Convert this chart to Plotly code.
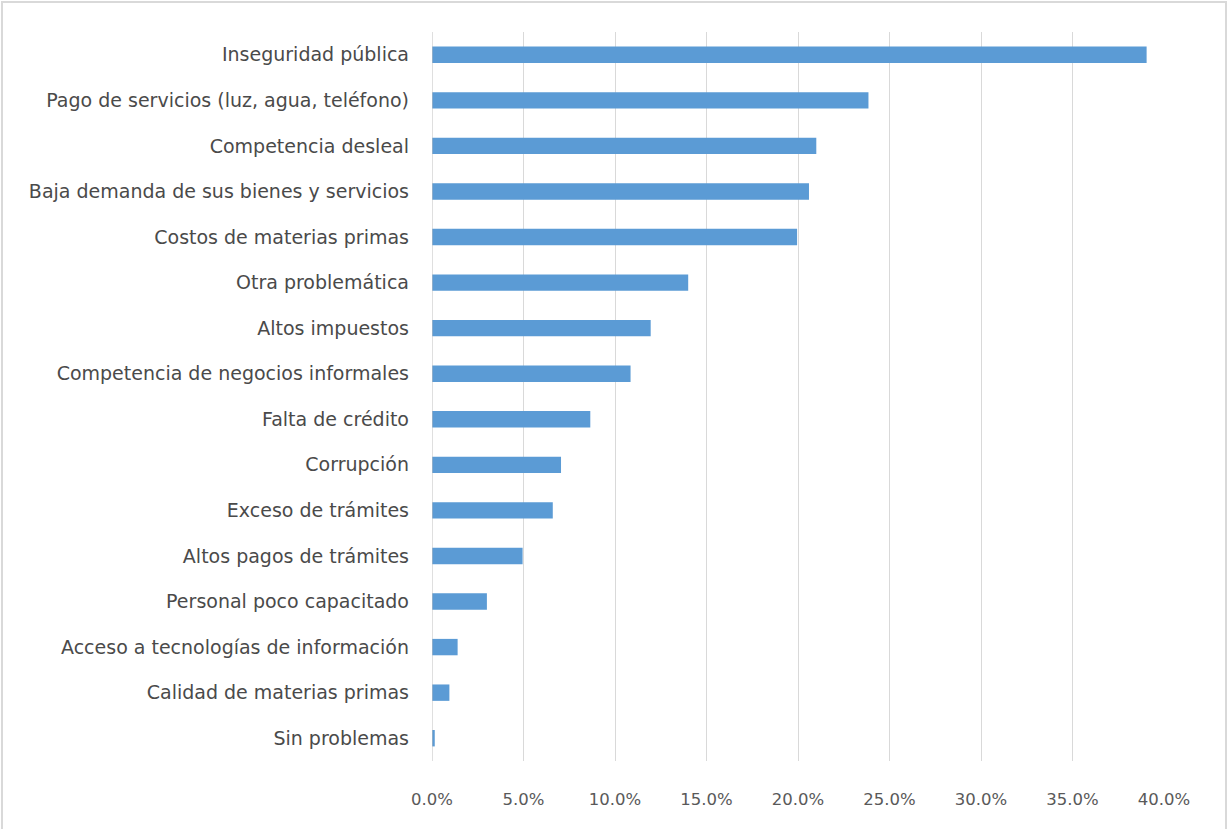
import plotly.graph_objects as go

categories = [
    "Inseguridad pública",
    "Pago de servicios (luz, agua, teléfono)",
    "Competencia desleal",
    "Baja demanda de sus bienes y servicios",
    "Costos de materias primas",
    "Otra problemática",
    "Altos impuestos",
    "Competencia de negocios informales",
    "Falta de crédito",
    "Corrupción",
    "Exceso de trámites",
    "Altos pagos de trámites",
    "Personal poco capacitado",
    "Acceso a tecnologías de información",
    "Calidad de materias primas",
    "Sin problemas",
]
values = [39.05, 23.85, 21.0, 20.6, 19.95, 14.0, 11.95, 10.85, 8.65, 7.05, 6.6, 4.95, 3.0, 1.4, 0.95, 0.15]
tick_vals = [0, 5, 10, 15, 20, 25, 30, 35, 40]
tick_text = ["0.0%", "5.0%", "10.0%", "15.0%", "20.0%", "25.0%", "30.0%", "35.0%", "40.0%"]

W, H = 1228, 829
ml, mr, mt, mb = 432, 64, 32, 68
pw, ph = W - ml - mr, H - mt - mb

fig = go.Figure(go.Bar(
    x=values, y=categories, orientation="h",
    marker=dict(color="#5b9bd5", line=dict(width=0)),
))

fig.update_layout(
    width=W, height=H,
    margin=dict(l=ml, r=mr, t=mt, b=mb, pad=0),
    paper_bgcolor="white", plot_bgcolor="white",
    bargap=0.64,
    showlegend=False,
    font=dict(family="DejaVu Sans", size=17, color="#595959"),
    shapes=[dict(
        type="rect", xref="paper", yref="paper",
        x0=(2 - ml) / pw, x1=(W - 2 - ml) / pw,
        y0=(mb - (H - 4)) / ph, y1=(H - mb - 2) / ph,
        line=dict(color="#d9d9d9", width=2), fillcolor="rgba(0,0,0,0)", layer="below",
    )],
)
fig.update_xaxes(
    range=[0, 40], tickvals=tick_vals, ticktext=tick_text,
    showgrid=True, gridcolor="#d9d9d9", gridwidth=1,
    zeroline=False, showline=False, ticks="",
    ticklabelstandoff=26, tickfont=dict(size=16.5, color="#595959"),
    fixedrange=True,
)
fig.update_yaxes(
    categoryorder="array", categoryarray=categories[::-1],
    showgrid=False, zeroline=False, showline=False, ticks="",
    ticklabelstandoff=22, tickfont=dict(size=19, color="#4a4a4a"),
    fixedrange=True,
)
fig.add_shape(type="line", xref="x", yref="paper", x0=0, x1=0, y0=0, y1=1,
              line=dict(color="#bfbfbf", width=1))

fig.write_html(
    "out.html",
    config={"displayModeBar": False},
    post_script="document.body.style.margin='0';document.body.style.overflow='hidden';",
)
